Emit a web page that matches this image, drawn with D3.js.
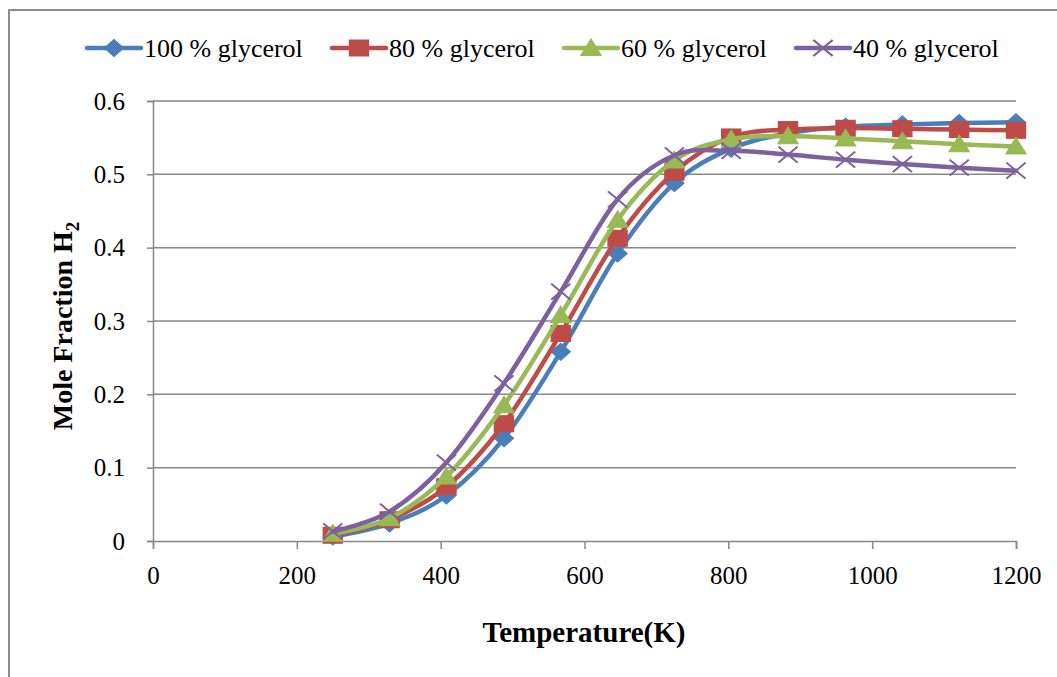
<!DOCTYPE html>
<html>
<head>
<meta charset="utf-8">
<script src="https://cdn.jsdelivr.net/npm/d3@7"></script>
<style>
  html, body { margin: 0; padding: 0; background: #fff; }
  svg { display: block; }
  text { font-family: "Liberation Serif", "Times New Roman", serif; fill: #000; }
</style>
</head>
<body>
<svg id="chart" width="1057" height="677"></svg>
<script>
// Temperature (K) at which each mole fraction was computed
const temps = [250, 329, 408, 488, 567, 646, 725, 804, 883, 963, 1042, 1121, 1200];

// H2 mole fraction for each glycerol concentration
const g100 = [0.006, 0.024, 0.062, 0.140, 0.258, 0.392, 0.488, 0.535, 0.556, 0.565, 0.568, 0.570, 0.571];
const g80  = [0.008, 0.029, 0.074, 0.160, 0.283, 0.413, 0.503, 0.551, 0.561, 0.563, 0.562, 0.561, 0.560];
const g60  = [0.010, 0.031, 0.088, 0.185, 0.308, 0.438, 0.519, 0.548, 0.552, 0.549, 0.545, 0.541, 0.538];
const g40  = [0.013, 0.040, 0.107, 0.215, 0.340, 0.466, 0.526, 0.532, 0.527, 0.520, 0.514, 0.509, 0.505];

const seriesNames = ["100 % glycerol", "80 % glycerol", "60 % glycerol", "40 % glycerol"];
const seriesColors = ["#4A7EBB", "#BE4B48", "#98B954", "#7D60A0"];
const seriesMarkers = ["diamond", "square", "triangle", "cross"];

const xTicks = [0, 200, 400, 600, 800, 1000, 1200];
const yTicks = [0, 0.1, 0.2, 0.3, 0.4, 0.5, 0.6];

const series = [g100, g80, g60, g40].map((vals, i) => ({
  name: seriesNames[i],
  color: seriesColors[i],
  marker: seriesMarkers[i],
  points: vals.map((v, j) => ({ t: temps[j], v }))
}));

const svg = d3.select("#chart");
const MX = 1.2; // markers are a little wider than tall
const grid = "#878787";

// outer chart frame
svg.append("path")
  .attr("d", "M9,677 V10 H1057")
  .attr("fill", "none").attr("stroke", "#8c8c8c").attr("stroke-width", 2);

const x = d3.scaleLinear().domain([0, 1200]).range([153, 1016]);
const y = d3.scaleLinear().domain([0, 0.6]).range([541, 101]);

// horizontal gridlines
svg.append("g").selectAll("line")
  .data(yTicks.filter(d => d > 0))
  .join("line")
  .attr("x1", x(0)).attr("x2", x(1200))
  .attr("y1", d => y(d)).attr("y2", d => y(d))
  .attr("stroke", grid).attr("stroke-width", 1.5);

// axes
const fmt = d3.format("");
const yAxis = svg.append("g")
  .attr("transform", `translate(${x(0)},0)`)
  .call(d3.axisLeft(y).tickValues(yTicks).tickSize(6).tickPadding(22).tickFormat(fmt));
const xAxis = svg.append("g")
  .attr("transform", `translate(0,${y(0)})`)
  .call(d3.axisBottom(x).tickValues(xTicks).tickSize(8).tickPadding(22).tickFormat(fmt));

[xAxis, yAxis].forEach(a => {
  a.select(".domain").attr("stroke", grid).attr("stroke-width", 1.5);
  a.selectAll(".tick line").attr("stroke", grid).attr("stroke-width", 1.5);
  a.selectAll(".tick text")
    .attr("fill", "#000")
    .style("font-family", "'Liberation Serif', 'Times New Roman', serif")
    .style("font-size", "25px");
});
yAxis.selectAll(".tick text").attr("dy", "0.33em");
xAxis.selectAll(".tick text").attr("dy", "0.5em");

// axis titles
svg.append("text")
  .attr("x", 584).attr("y", 642)
  .attr("text-anchor", "middle")
  .style("font-size", "29px").style("font-weight", "bold")
  .text("Temperature(K)");
const yt = svg.append("text")
  .attr("transform", "translate(72,326) rotate(-90)")
  .attr("text-anchor", "middle")
  .style("font-size", "28px").style("font-weight", "bold");
yt.append("tspan").text("Mole Fraction H");
yt.append("tspan").attr("dy", 7).style("font-size", "19px").text("2");

// marker shapes (unscaled, centred on origin)
function markerPath(kind) {
  switch (kind) {
    case "diamond": return "M0,-8.5 L8,0 L0,8.5 L-8,0 Z";
    case "square": return "M-8,-8 H8 V8 H-8 Z";
    case "triangle": return "M0,-9 L8.5,7.5 L-8.5,7.5 Z";
    case "cross": return "M-8,-8 L8,8 M8,-8 L-8,8";
  }
}
function drawMarker(parent, kind, color, px, py) {
  const p = parent.append("path")
    .attr("d", markerPath(kind))
    .attr("transform", `translate(${px},${py}) scale(${MX},1)`);
  if (kind === "cross") {
    p.attr("fill", "none").attr("stroke", color).attr("stroke-width", 1.8);
  } else {
    p.attr("fill", color).attr("stroke", color).attr("stroke-width", 1);
  }
}

// smoothed series lines, each followed by its markers
const line = d3.line()
  .x(d => x(d.t)).y(d => y(d.v))
  .curve(d3.curveCardinal.tension(0));

series.forEach(s => {
  const g = svg.append("g");
  g.append("path")
    .datum(s.points)
    .attr("d", line)
    .attr("fill", "none")
    .attr("stroke", s.color)
    .attr("stroke-width", 4.5)
    .attr("stroke-linejoin", "round")
    .attr("stroke-linecap", "round");
  s.points.forEach(p => drawMarker(g, s.marker, s.color, x(p.t), y(p.v)));
});

// legend
const legendX = [87, 332, 564, 796];
const legend = svg.append("g");
series.forEach((s, i) => {
  const lx = legendX[i];
  legend.append("line")
    .attr("x1", lx).attr("x2", lx + 54)
    .attr("y1", 48).attr("y2", 48)
    .attr("stroke", s.color).attr("stroke-width", 4.5)
    .attr("stroke-linecap", "round");
  drawMarker(legend, s.marker, s.color, lx + 27, 48);
  legend.append("text")
    .attr("x", lx + 57).attr("y", 57)
    .style("font-size", "26px")
    .text(s.name);
});
</script>
</body>
</html>
